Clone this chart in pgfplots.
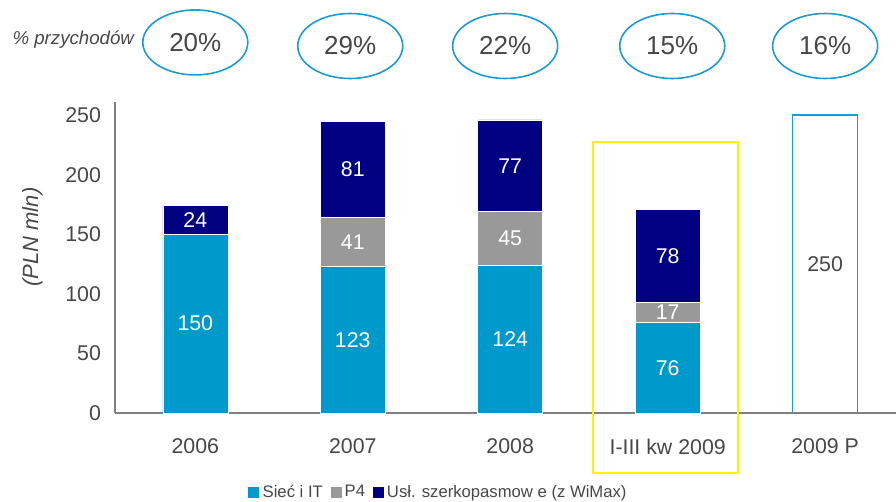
\documentclass[border=0pt]{standalone}
\usepackage{pgfplots}
\pgfplotsset{compat=1.18}
\usepackage{fontspec}
\setmainfont{Liberation Sans}
\usetikzlibrary{shapes.geometric}
\definecolor{cSiec}{HTML}{0099CC}
\definecolor{cP}{HTML}{999999}
\definecolor{cUsl}{HTML}{000080}
\definecolor{cTxt}{HTML}{474747}
\definecolor{cEll}{HTML}{1A9BD3}
\definecolor{cAx}{HTML}{7F7F7F}
\pgfplotsset{base/.style={at={(0pt,0pt)}, anchor=south west, scale only axis,
  width=585.75pt, height=233.25pt,
  xmin=-0.51, xmax=4.45, ymin=0, ymax=261, clip=false}}
\begin{document}
\begin{tikzpicture}
\useasboundingbox (-86.25pt,-66pt) rectangle (585.75pt,309.75pt);
\begin{axis}[base, hide axis, ybar, bar width=48.75pt]
\addplot[fill=white, draw=cEll, line width=1.1pt] coordinates {(4,250)};
\node[font=\fontsize{16}{19}\selectfont, text=cTxt] at (axis cs:4,125) {250};
\end{axis}
\begin{axis}[base,
  axis x line=bottom, axis y line=left,
  axis line style={cAx, line width=0.8pt, -},
  ybar stacked, bar width=48.75pt,
  xtick={0,1,2,3,4},
  xticklabels={2006,2007,2008,I-III kw 2009,2009 P},
  ytick={0,50,100,150,200,250},
  major tick length=0pt,
  tick label style={font=\fontsize{16}{19}\selectfont, text=cTxt},
  xticklabel style={yshift=-16pt},
  yticklabel style={xshift=-7pt},
  /pgf/number format/assume math mode=true,
  legend columns=3,
  legend style={at={(0.414,-0.254)}, anchor=center, draw=none, fill=none,
    font=\fontsize{12.5}{15}\selectfont, text=cTxt,
    /tikz/every even column/.append style={column sep=3pt}},
  legend image code/.code={\fill[#1] (0pt,-4.5pt) rectangle (9pt,4.5pt);},
]
\addplot[fill=cSiec, draw=white, line width=0.4pt] coordinates {(0,150) (1,123) (2,124) (3,76)};
\addplot[fill=cP, draw=white, line width=0.4pt] coordinates {(0,0) (1,41) (2,45) (3,17)};
\addplot[fill=cUsl, draw=white, line width=0.4pt] coordinates {(0,24) (1,81) (2,77) (3,78)};
\legend{Sieć i IT, P4, Usł. szerkopasmow e (z WiMax)}

% yellow highlight
\draw[yellow, line width=1.5pt] (axis cs:2.527,-50.3) rectangle (axis cs:3.448,227.3);

% ellipses
\node[ellipse, draw=cEll, line width=1.2pt, minimum width=78.75pt, minimum height=48.75pt, font=\fontsize{19.5}{22}\selectfont, text=cTxt, inner sep=0pt] at (axis cs:0,311) {20\%};
\node[ellipse, draw=cEll, line width=1.2pt, minimum width=78.75pt, minimum height=48.75pt, font=\fontsize{19.5}{22}\selectfont, text=cTxt, inner sep=0pt] at (axis cs:0.984,308) {29\%};
\node[ellipse, draw=cEll, line width=1.2pt, minimum width=78.75pt, minimum height=48.75pt, font=\fontsize{19.5}{22}\selectfont, text=cTxt, inner sep=0pt] at (axis cs:1.968,308) {22\%};
\node[ellipse, draw=cEll, line width=1.2pt, minimum width=78.75pt, minimum height=48.75pt, font=\fontsize{19.5}{22}\selectfont, text=cTxt, inner sep=0pt] at (axis cs:3.029,308) {15\%};
\node[ellipse, draw=cEll, line width=1.2pt, minimum width=78.75pt, minimum height=48.75pt, font=\fontsize{19.5}{22}\selectfont, text=cTxt, inner sep=0pt] at (axis cs:4,308) {16\%};
\node[font=\fontsize{14}{16}\selectfont\itshape, text=cTxt] at (axis cs:-0.775,313) {\% przychodów};
\node[font=\fontsize{16.5}{19}\selectfont\itshape, text=cTxt, rotate=90] at (axis cs:-1.035,147.6) {(PLN mln)};
\end{axis}
\begin{axis}[base, hide axis]
\addplot[draw=none, forget plot] coordinates {(0,0)};
\node[font=\fontsize{16}{19}\selectfont, text=white] at (axis cs:0,75) {150};
\node[font=\fontsize{16}{19}\selectfont, text=white] at (axis cs:0,162) {24};
\node[font=\fontsize{16}{19}\selectfont, text=white] at (axis cs:1,61.5) {123};
\node[font=\fontsize{16}{19}\selectfont, text=white] at (axis cs:1,143.5) {41};
\node[font=\fontsize{16}{19}\selectfont, text=white] at (axis cs:1,204.5) {81};
\node[font=\fontsize{16}{19}\selectfont, text=white] at (axis cs:2,62) {124};
\node[font=\fontsize{16}{19}\selectfont, text=white] at (axis cs:2,146.5) {45};
\node[font=\fontsize{16}{19}\selectfont, text=white] at (axis cs:2,207.5) {77};
\node[font=\fontsize{16}{19}\selectfont, text=white] at (axis cs:3,38) {76};
\node[font=\fontsize{16}{19}\selectfont, text=white] at (axis cs:3,84.5) {17};
\node[font=\fontsize{16}{19}\selectfont, text=white] at (axis cs:3,132) {78};
\end{axis}
\end{tikzpicture}
\end{document}
